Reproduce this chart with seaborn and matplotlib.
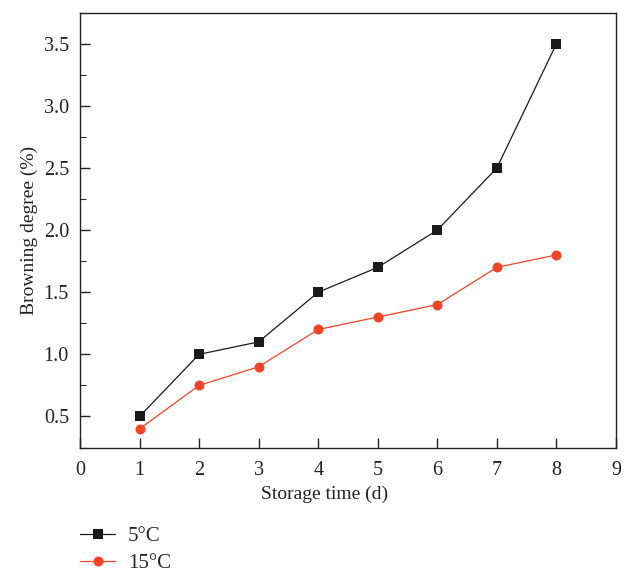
import matplotlib
matplotlib.use("Agg")
import matplotlib.pyplot as plt
import seaborn as sns
import pandas as pd
from matplotlib.ticker import MultipleLocator
from matplotlib.lines import Line2D

days = [1, 2, 3, 4, 5, 6, 7, 8]
temp_5 = [0.5, 1.0, 1.1, 1.5, 1.7, 2.0, 2.5, 3.5]
temp_15 = [0.4, 0.75, 0.9, 1.2, 1.3, 1.4, 1.7, 1.8]
series_names = ["5°C", "15°C"]

df = pd.DataFrame({
    "day": days * 2,
    "value": temp_5 + temp_15,
    "series": [series_names[0]] * len(days) + [series_names[1]] * len(days),
})

sns.set_style("ticks")
plt.rcParams["font.family"] = ["Liberation Serif", "DejaVu Serif"]

fig = plt.figure(figsize=(6.27, 5.73), dpi=100)
ax = fig.add_axes([0.1276, 0.219, 0.8549, 0.759])

palette = {"5°C": "#1a1a1a", "15°C": "#ef4427"}
markers = {"5°C": "s", "15°C": "o"}
sns.lineplot(data=df, x="day", y="value", hue="series", style="series",
             palette=palette, markers=markers, dashes=False, markersize=7.2,
             markeredgewidth=0, linewidth=0.9, ax=ax, legend=False)

ax.set_xlim(0, 9)
ax.set_ylim(0.25, 3.75)
ax.xaxis.set_major_locator(MultipleLocator(1))
ax.yaxis.set_minor_locator(MultipleLocator(0.25))
ax.set_yticks([0.5, 1.0, 1.5, 2.0, 2.5, 3.0, 3.5])
ax.set_yticklabels(["0.5", "1.0", "1.5", "2.0", "2.5", "3.0", "3.5"])
ax.tick_params(axis="both", which="major", direction="in", length=7, width=1,
               labelsize=14.5, color="#222222", labelcolor="#222222")
ax.tick_params(axis="x", which="major", pad=10)
ax.tick_params(axis="y", which="major", pad=8)
ax.tick_params(axis="y", which="minor", direction="in", length=4, width=0.8)
for s in ax.spines.values():
    s.set_linewidth(1.0)
    s.set_color("#222222")

ax.set_xlabel("Storage time (d)", fontsize=14, color="#222222")
ax.xaxis.set_label_coords(0.457, -0.087)
ax.set_ylabel("Browning degree (%)", fontsize=14, color="#222222")
ax.yaxis.set_label_coords(-0.079, 0.5)

handles = [Line2D([], [], color=palette[n], marker=markers[n], markersize=7.2,
                  markeredgewidth=0, linewidth=0.9) for n in series_names]
fig.legend(handles, series_names, loc="upper left",
           bbox_to_anchor=(0.1276, 0.0812), frameon=False, fontsize=15,
           handlelength=1.68, labelspacing=0.35, handletextpad=0.63,
           borderaxespad=0, borderpad=0)

fig.savefig("out.png", dpi=100)
